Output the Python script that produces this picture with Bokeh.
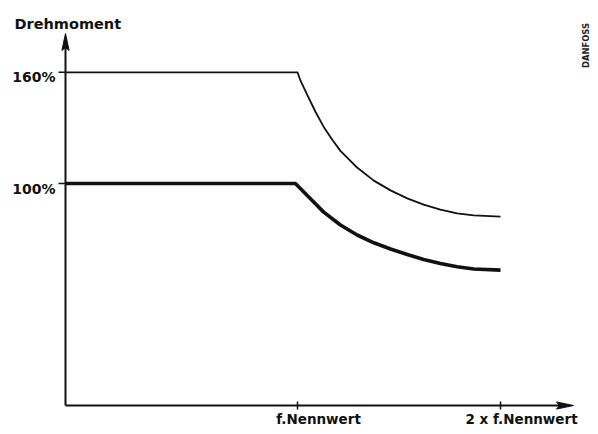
import math
from bokeh.plotting import figure
from bokeh.models import Range1d
from bokeh.embed import file_html
from bokeh.resources import INLINE
from bokeh.core.properties import value

# ---------------- data ----------------
y_title = "Drehmoment"
y_tick_values = [100.0, 150.1]
y_tick_labels = ["100%", "160%"]
x_tick_values = [1.0, 1.875]
x_tick_labels = ["f.Nennwert", "2 x f.Nennwert"]
brand = "DANFOSS"

curve_160_x = [0.0, 1.0, 1.013, 1.042, 1.078, 1.113, 1.150, 1.185, 1.257, 1.329,
               1.401, 1.473, 1.544, 1.616, 1.688, 1.760, 1.875]
curve_160_y = [150.1, 150.1, 146.3, 139.9, 132.2, 125.5, 119.7, 114.7, 107.2, 101.3,
               96.9, 93.3, 90.5, 88.2, 86.5, 85.6, 85.1]

curve_100_x = [0.0, 0.991, 1.042, 1.113, 1.185, 1.257, 1.329, 1.401, 1.473,
               1.544, 1.616, 1.688, 1.760, 1.875]
curve_100_y = [100.0, 100.0, 94.6, 87.1, 81.3, 76.8, 73.3, 70.5, 68.0,
               65.8, 64.0, 62.5, 61.5, 61.0]

# ---------------- layout constants ----------------
W, H = 590, 426
PX_X = 232.0      # pixels per x unit
PX_Y = 2.22       # pixels per y unit
ORIG_X, ORIG_Y = 65.0, 405.0   # origin in figure pixels


def dx(px):
    return px / PX_X


def dy(px):
    return px / PX_Y


x_start = -ORIG_X / PX_X
x_end = (W - ORIG_X) / PX_X
y_start = -(H - ORIG_Y) / PX_Y
y_end = ORIG_Y / PX_Y

y_tip = dy(ORIG_Y - 33)     # arrow tip of y axis
x_tip = dx(573 - ORIG_X)    # arrow tip of x axis

p = figure(width=W, height=H, x_range=Range1d(x_start, x_end), y_range=Range1d(y_start, y_end),
           output_backend="svg", toolbar_location=None, x_axis_location=None, y_axis_location=None,
           min_border=0, outline_line_color=None, background_fill_color="white")
p.grid.visible = False

ink = "#111111"

# axes lines
p.line([0, 0], [0, y_tip - dy(10)], line_color=ink, line_width=2)
p.line([0, x_tip - dx(10)], [0, 0], line_color=ink, line_width=2)

# arrow heads
hw, hl, notch = 3.6, 17, 3
p.patch([0, dx(hw), 0, -dx(hw)], [y_tip, y_tip - dy(hl), y_tip - dy(hl) + dy(notch), y_tip - dy(hl)],
        fill_color=ink, line_color=ink, line_width=1)
p.patch([x_tip, x_tip - dx(hl), x_tip - dx(hl) + dx(notch), x_tip - dx(hl)], [0, dy(hw), 0, -dy(hw)],
        fill_color=ink, line_color=ink, line_width=1)

# ticks
p.segment(x0=[-dx(7)] * len(y_tick_values), y0=y_tick_values,
          x1=[0] * len(y_tick_values), y1=y_tick_values, line_color=ink, line_width=1.5)
p.segment(x0=x_tick_values, y0=[dy(4)] * len(x_tick_values),
          x1=x_tick_values, y1=[-dy(4)] * len(x_tick_values), line_color=ink, line_width=1.5)

# curves
p.line(curve_160_x, curve_160_y, line_color=ink, line_width=1.8, line_join="round")
p.line(curve_100_x, curve_100_y, line_color=ink, line_width=3.6, line_join="round")

font = value("DejaVu Sans")

# tick labels
p.text(x=[0] * len(y_tick_values), y=y_tick_values, text=y_tick_labels,
       x_offset=-10, y_offset=5, text_align="right", text_baseline="alphabetic",
       text_font=font, text_font_style="bold", text_font_size="14px", text_color=ink)
p.text(x=x_tick_values, y=[0] * len(x_tick_values), text=x_tick_labels,
       x_offset=21, y_offset=13, text_align="center", text_baseline="alphabetic",
       text_font=font, text_font_style="bold", text_font_size="13.5px", text_color=ink)

# axis title
p.text(x=[0], y=[y_tip], text=[y_title], x_offset=-51, y_offset=-10,
       text_align="left", text_baseline="alphabetic",
       text_font=font, text_font_style="bold", text_font_size="14.5px", text_color=ink)

# brand mark
p.text(x=[dx(585 - ORIG_X)], y=[dy(ORIG_Y - 45)], text=[brand], angle=math.pi / 2,
       text_align="center", text_baseline="middle",
       text_font=font, text_font_style="bold", text_font_size="8.4px", text_color="#222222")

open("out.html", "w").write(file_html(p, INLINE))
